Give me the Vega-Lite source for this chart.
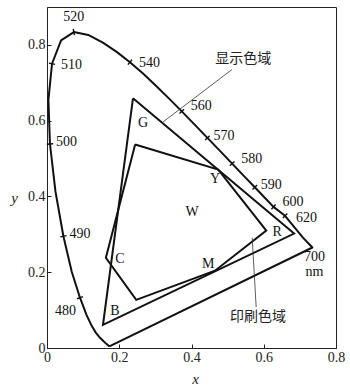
{
  "$schema": "https://vega.github.io/schema/vega-lite/v6.json",
  "width": 289,
  "height": 341,
  "autosize": {"type": "none"},
  "padding": {"left": 47, "top": 7, "right": 14, "bottom": 43},
  "background": "white",
  "config": {
    "view": {"stroke": "#222", "strokeWidth": 1},
    "font": "Liberation Serif",
    "axis": {
      "grid": false,
      "domainColor": "#222",
      "tickColor": "#222",
      "tickSize": -4,
      "labelFont": "Liberation Serif",
      "labelFontSize": 14,
      "labelColor": "#222",
      "labelFlush": false,
      "labelOverlap": false,
      "titleFont": "Liberation Serif",
      "titleFontSize": 15,
      "titleFontStyle": "italic",
      "titleFontWeight": "normal",
      "titleColor": "#222"
    }
  },
  "datasets": {
    "locus": [
      {"wl": 380, "o": 0, "x": 0.1741, "y": 0.005},
      {"wl": 420, "o": 1, "x": 0.1714, "y": 0.0051},
      {"wl": 440, "o": 2, "x": 0.1644, "y": 0.0109},
      {"wl": 450, "o": 3, "x": 0.1566, "y": 0.0177},
      {"wl": 460, "o": 4, "x": 0.144, "y": 0.0297},
      {"wl": 465, "o": 5, "x": 0.1355, "y": 0.0399},
      {"wl": 470, "o": 6, "x": 0.1241, "y": 0.0578},
      {"wl": 475, "o": 7, "x": 0.1096, "y": 0.0868},
      {"wl": 480, "o": 8, "x": 0.0913, "y": 0.1327},
      {"wl": 485, "o": 9, "x": 0.0687, "y": 0.2007},
      {"wl": 490, "o": 10, "x": 0.0454, "y": 0.295},
      {"wl": 495, "o": 11, "x": 0.0235, "y": 0.4127},
      {"wl": 500, "o": 12, "x": 0.0082, "y": 0.5384},
      {"wl": 505, "o": 13, "x": 0.0039, "y": 0.6548},
      {"wl": 510, "o": 14, "x": 0.0139, "y": 0.7502},
      {"wl": 515, "o": 15, "x": 0.0389, "y": 0.812},
      {"wl": 520, "o": 16, "x": 0.0743, "y": 0.8338},
      {"wl": 525, "o": 17, "x": 0.1142, "y": 0.8262},
      {"wl": 530, "o": 18, "x": 0.1547, "y": 0.8059},
      {"wl": 535, "o": 19, "x": 0.1929, "y": 0.7816},
      {"wl": 540, "o": 20, "x": 0.2296, "y": 0.7543},
      {"wl": 545, "o": 21, "x": 0.2658, "y": 0.7243},
      {"wl": 550, "o": 22, "x": 0.3016, "y": 0.6923},
      {"wl": 555, "o": 23, "x": 0.3373, "y": 0.6589},
      {"wl": 560, "o": 24, "x": 0.3731, "y": 0.6245},
      {"wl": 565, "o": 25, "x": 0.4087, "y": 0.5896},
      {"wl": 570, "o": 26, "x": 0.4441, "y": 0.5547},
      {"wl": 575, "o": 27, "x": 0.4788, "y": 0.5202},
      {"wl": 580, "o": 28, "x": 0.5125, "y": 0.4866},
      {"wl": 585, "o": 29, "x": 0.5448, "y": 0.4544},
      {"wl": 590, "o": 30, "x": 0.5752, "y": 0.4242},
      {"wl": 595, "o": 31, "x": 0.6029, "y": 0.3965},
      {"wl": 600, "o": 32, "x": 0.627, "y": 0.3725},
      {"wl": 620, "o": 33, "x": 0.659, "y": 0.349},
      {"wl": 630, "o": 34, "x": 0.7079, "y": 0.292},
      {"wl": 640, "o": 35, "x": 0.719, "y": 0.2809},
      {"wl": 660, "o": 36, "x": 0.73, "y": 0.27},
      {"wl": 700, "o": 37, "x": 0.7347, "y": 0.2653},
      {"wl": 380, "o": 99, "x": 0.1741, "y": 0.005}
    ],
    "gamut": [
      {"s": "display", "o": 0, "x": 0.238, "y": 0.659},
      {"s": "display", "o": 1, "x": 0.684, "y": 0.302},
      {"s": "display", "o": 2, "x": 0.155, "y": 0.061},
      {"s": "display", "o": 3, "x": 0.238, "y": 0.659},
      {"s": "print", "o": 0, "x": 0.244, "y": 0.537},
      {"s": "print", "o": 1, "x": 0.474, "y": 0.471},
      {"s": "print", "o": 2, "x": 0.607, "y": 0.31},
      {"s": "print", "o": 3, "x": 0.465, "y": 0.204},
      {"s": "print", "o": 4, "x": 0.247, "y": 0.127},
      {"s": "print", "o": 5, "x": 0.163, "y": 0.238},
      {"s": "print", "o": 6, "x": 0.244, "y": 0.537}
    ],
    "letters": [
      {"t": "G", "x": 0.266, "y": 0.595},
      {"t": "Y", "x": 0.465, "y": 0.447},
      {"t": "W", "x": 0.402, "y": 0.36},
      {"t": "R", "x": 0.637, "y": 0.307},
      {"t": "M", "x": 0.446, "y": 0.222},
      {"t": "C", "x": 0.202, "y": 0.235},
      {"t": "B", "x": 0.188, "y": 0.098}
    ],
    "notes": [
      {"t": "显示色域", "x": 0.543, "y": 0.762, "x1": 0.512, "y1": 0.735, "x2": 0.319, "y2": 0.595},
      {"t": "印刷色域", "x": 0.584, "y": 0.082, "x1": 0.568, "y1": 0.291, "x2": 0.579, "y2": 0.108}
    ]
  },
  "layer": [
    {
      "data": {"name": "locus"},
      "mark": {"type": "line", "color": "#111", "strokeWidth": 2, "strokeJoin": "round"},
      "encoding": {
        "x": {"field": "x", "type": "quantitative", "scale": {"domain": [0, 0.8], "nice": false},
          "axis": {"values": [0, 0.1, 0.2, 0.3, 0.4, 0.5, 0.6, 0.7, 0.8],
            "labelExpr": "round(datum.value*10)%2==0 ? (datum.value==0 ? '0' : format(datum.value,'.1f')) : ''",
            "title": "x", "titleX": 148, "titleY": 30, "titleBaseline": "middle", "labelPadding": 6}},
        "y": {"field": "y", "type": "quantitative", "scale": {"domain": [0, 0.9], "nice": false},
          "axis": {"values": [0, 0.2, 0.4, 0.6, 0.8],
            "labelExpr": "datum.value==0 ? '0' : format(datum.value,'.1f')",
            "title": "y", "titleAngle": 0, "titleX": -33, "titleY": 190, "titleBaseline": "middle", "titleAlign": "center", "labelPadding": 6}},
        "order": {"field": "o", "type": "quantitative"}
      }
    },
    {
      "data": {"name": "locus"},
      "transform": [
        {"window": [
          {"op": "lag", "field": "x", "as": "px"},
          {"op": "lead", "field": "x", "as": "nx"},
          {"op": "lag", "field": "y", "as": "py"},
          {"op": "lead", "field": "y", "as": "ny"}
        ], "sort": [{"field": "o"}]},
        {"filter": "indexof([480,490,500,510,520,540,560,570,580,590,600,620], datum.wl) >= 0 && datum.o < 90"},
        {"calculate": "atan2(-(datum.ny-datum.py)*378, (datum.nx-datum.px)*361)*180/PI + 90", "as": "ang"}
      ],
      "mark": {"type": "point", "shape": "stroke", "filled": false, "size": 40, "strokeWidth": 1.4, "color": "#111", "opacity": 1},
      "encoding": {
        "x": {"field": "x", "type": "quantitative"},
        "y": {"field": "y", "type": "quantitative"},
        "angle": {"field": "ang", "type": "quantitative", "scale": null}
      }
    },
    {
      "data": {"name": "gamut"},
      "mark": {"type": "line", "color": "#111", "strokeWidth": 2, "strokeJoin": "miter"},
      "encoding": {
        "x": {"field": "x", "type": "quantitative"},
        "y": {"field": "y", "type": "quantitative"},
        "detail": {"field": "s"},
        "order": {"field": "o", "type": "quantitative"}
      }
    },
    {
      "data": {"name": "notes"},
      "mark": {"type": "rule", "color": "#333", "strokeWidth": 0.8},
      "encoding": {
        "x": {"field": "x1", "type": "quantitative"},
        "y": {"field": "y1", "type": "quantitative"},
        "x2": {"field": "x2"},
        "y2": {"field": "y2"}
      }
    },
    {
      "data": {"name": "notes"},
      "mark": {"type": "text", "font": "Noto Sans CJK SC", "fontSize": 14, "color": "#222", "align": "center", "baseline": "middle"},
      "encoding": {
        "x": {"field": "x", "type": "quantitative"},
        "y": {"field": "y", "type": "quantitative"},
        "text": {"field": "t"}
      }
    },
    {
      "data": {"name": "letters"},
      "mark": {"type": "text", "font": "Liberation Serif", "fontSize": 14, "color": "#111", "align": "center", "baseline": "middle"},
      "encoding": {
        "x": {"field": "x", "type": "quantitative"},
        "y": {"field": "y", "type": "quantitative"},
        "text": {"field": "t"}
      }
    },
    {
      "data": {"name": "locus"},
      "transform": [{"filter": "datum.wl == 520 && datum.o < 90"}],
      "mark": {"type": "text", "fontSize": 14, "color": "#111", "align": "center", "baseline": "middle", "dy": -15},
      "encoding": {"x": {"field": "x", "type": "quantitative"}, "y": {"field": "y", "type": "quantitative"}, "text": {"field": "wl"}}
    },
    {
      "data": {"name": "locus"},
      "transform": [{"filter": "indexof([490,500,570,590], datum.wl) >= 0"}],
      "mark": {"type": "text", "fontSize": 14, "color": "#111", "align": "left", "baseline": "middle", "dx": 6, "dy": -2},
      "encoding": {"x": {"field": "x", "type": "quantitative"}, "y": {"field": "y", "type": "quantitative"}, "text": {"field": "wl"}}
    },
    {
      "data": {"name": "locus"},
      "transform": [{"filter": "indexof([510,540], datum.wl) >= 0"}],
      "mark": {"type": "text", "fontSize": 14, "color": "#111", "align": "left", "baseline": "middle", "dx": 9, "dy": 1},
      "encoding": {"x": {"field": "x", "type": "quantitative"}, "y": {"field": "y", "type": "quantitative"}, "text": {"field": "wl"}}
    },
    {
      "data": {"name": "locus"},
      "transform": [{"filter": "indexof([560,580,600], datum.wl) >= 0"}],
      "mark": {"type": "text", "fontSize": 14, "color": "#111", "align": "left", "baseline": "middle", "dx": 9, "dy": -5},
      "encoding": {"x": {"field": "x", "type": "quantitative"}, "y": {"field": "y", "type": "quantitative"}, "text": {"field": "wl"}}
    },
    {
      "data": {"name": "locus"},
      "transform": [{"filter": "datum.wl == 480"}],
      "mark": {"type": "text", "fontSize": 14, "color": "#111", "align": "right", "baseline": "middle", "dx": -4, "dy": 13},
      "encoding": {"x": {"field": "x", "type": "quantitative"}, "y": {"field": "y", "type": "quantitative"}, "text": {"field": "wl"}}
    },
    {
      "data": {"name": "locus"},
      "transform": [{"filter": "datum.wl == 620"}],
      "mark": {"type": "text", "fontSize": 14, "color": "#111", "align": "left", "baseline": "middle", "dx": 11, "dy": 2},
      "encoding": {"x": {"field": "x", "type": "quantitative"}, "y": {"field": "y", "type": "quantitative"}, "text": {"field": "wl"}}
    },
    {
      "data": {"name": "locus"},
      "transform": [{"filter": "datum.wl == 700"}, {"calculate": "[datum.wl + '', 'nm']", "as": "lbl"}],
      "mark": {"type": "text", "fontSize": 14, "color": "#111", "align": "center", "baseline": "middle", "dx": 2, "dy": 10, "lineHeight": 15},
      "encoding": {"x": {"field": "x", "type": "quantitative"}, "y": {"field": "y", "type": "quantitative"}, "text": {"field": "lbl"}}
    }
  ]
}
